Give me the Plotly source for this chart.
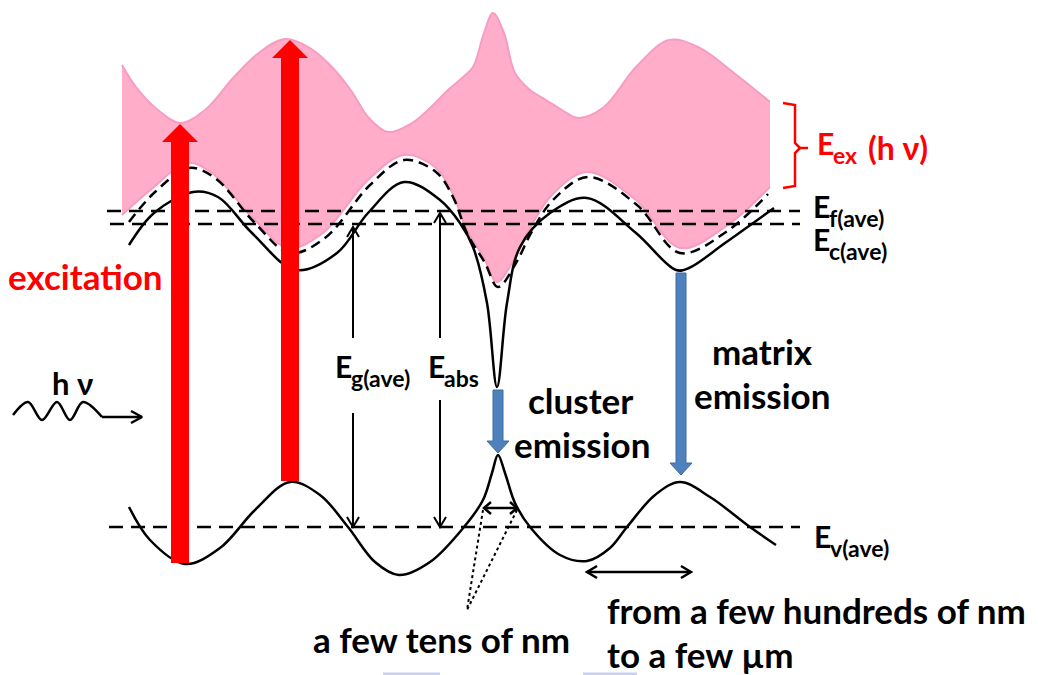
import plotly.graph_objects as go

W, H = 1038, 675
FONT = "Lato"

# ---------------- data (pixel coordinates) ----------------
# excitation band (pink) upper and lower boundaries
band_top_x = [122, 136, 158, 180, 205, 234, 260, 285, 310, 332, 352, 368, 388, 412, 430, 448, 462, 473, 484, 493, 504, 515, 530, 546, 562, 578, 604, 636, 669, 698, 734, 770]
band_top_y = [65, 87, 110, 123, 110, 77, 52, 39, 48, 67, 92, 117, 132, 123, 108, 90, 78, 67, 33, 13, 33, 73, 90, 100, 110, 118, 107, 67, 40, 47, 73, 102]
band_bot_x = [122, 154, 187, 212, 252, 288, 323, 368, 404, 435, 452, 466, 484, 497, 515, 530, 552, 587, 636, 680, 725, 770]
band_bot_y = [215, 187, 163, 173, 217, 248, 233, 180, 155, 167, 192, 228, 258, 282, 258, 228, 195, 172, 200, 248, 227, 187]

# local Fermi level (dashed curve)
fermi_x = [129, 155, 189, 215, 254, 290, 325, 370, 404, 436, 453, 467, 485, 498, 516, 531, 553, 588, 637, 680, 726, 768]
fermi_y = [222, 192, 168, 178, 222, 253, 238, 185, 160, 172, 197, 233, 263, 287, 263, 233, 200, 177, 205, 253, 232, 194]

# conduction band edge
cb_x = [129, 154, 193, 218, 252, 296, 337, 368, 404, 440, 460, 473, 487, 497, 507, 520, 550, 587, 636, 676, 689, 725, 774]
cb_y = [245, 213, 192, 197, 233, 270, 253, 213, 182, 200, 223, 247, 303, 387, 303, 247, 213, 198, 233, 270, 268, 243, 208]

# valence band edge
vb_x = [129, 150, 185, 220, 255, 290, 320, 348, 375, 399, 430, 464, 483, 492, 498, 505, 515, 530, 560, 587, 610, 627, 655, 680, 710, 750, 776]
vb_y = [507, 540, 564, 548, 510, 482, 495, 527, 562, 575, 562, 527, 500, 473, 455, 473, 503, 527, 555, 561, 548, 527, 495, 482, 497, 527, 545]

# average levels (y) and their x extent
levels = {"Ef": 211, "Ec": 224, "Ev": 527}
level_x0 = [107, 110, 109]
level_x1 = [800, 800, 800]

# excitation arrows (red)
red_x = [180, 290]
red_base = [563, 481]
red_tip = [124, 40]

# emission arrows (blue)
blue_x = [498, 681]
blue_top = [390, 273]
blue_tip = [453, 475]

# energy arrows (E_g, E_abs)
gap_x = [353, 440]
gap_top = [227, 213]
gap_bot = [527, 527]
gap_hole_top = [338, 338]
gap_hole_bot = [413, 400]

# photon wave
wave_x = [13, 28, 42, 57, 70, 83, 102]
wave_y = [415, 402, 420, 402, 420, 402, 417]

# ---------------- figure ----------------
fig = go.Figure()

def line(x, y, color="black", width=2.5, dash=None, shape="linear", smoothing=1.0):
    fig.add_trace(go.Scatter(x=x, y=y, mode="lines", hoverinfo="skip", showlegend=False,
                             line=dict(color=color, width=width, dash=dash, shape=shape,
                                       smoothing=smoothing)))

def poly(x, y, fill, edge=None, ew=0):
    fig.add_trace(go.Scatter(x=x + [x[0]], y=y + [y[0]], mode="lines", fill="toself",
                             fillcolor=fill, hoverinfo="skip", showlegend=False,
                             line=dict(color=edge or fill, width=ew)))

def open_head(xt, yt, dx, dy, L=9, hw=5):
    px, py = -dy, dx
    bx, by = xt - dx * L, yt - dy * L
    return [bx + px * hw, xt, bx - px * hw], [by + py * hw, yt, by - py * hw]

# pink band
PINK_FILL = "#FFADC8"
PINK_EDGE = "#F79CC4"
fig.add_trace(go.Scatter(x=band_top_x, y=band_top_y, mode="lines", hoverinfo="skip", showlegend=False,
                         line=dict(color=PINK_EDGE, width=2, shape="spline", smoothing=1.0)))
fig.add_trace(go.Scatter(x=band_bot_x, y=band_bot_y, mode="lines", hoverinfo="skip", showlegend=False,
                         fill="tonexty", fillcolor=PINK_FILL,
                         line=dict(color=PINK_EDGE, width=2, shape="spline", smoothing=1.0)))

# average level dashed lines
for (name, yv), x0, x1 in zip(levels.items(), level_x0, level_x1):
    line([x0, x1], [yv, yv], width=2.5, dash="14px,8px")

# fermi dashed curve, band edges
line(fermi_x, fermi_y, width=2.5, dash="10px,6px", shape="spline")
line(cb_x, cb_y, width=2.5, shape="spline")
line(vb_x, vb_y, width=2.5, shape="spline")

# Eg / Eabs double arrows
for x, t, b, h0, h1 in zip(gap_x, gap_top, gap_bot, gap_hole_top, gap_hole_bot):
    line([x, x], [t, h0], width=2)
    line([x, x], [h1, b], width=2)
    hx, hy = open_head(x, t, 0, -1, L=10, hw=6)
    line(hx, hy, width=2)
    hx, hy = open_head(x, b, 0, 1, L=10, hw=6)
    line(hx, hy, width=2)

# small horizontal double arrows
for x0, x1, yv, L in [(484, 517, 508, 7), (587, 691, 572, 10)]:
    line([x0, x1], [yv, yv], width=2.5)
    hx, hy = open_head(x1, yv, 1, 0, L=L, hw=6)
    line(hx, hy, width=2.5)
    hx, hy = open_head(x0, yv, -1, 0, L=L, hw=6)
    line(hx, hy, width=2.5)

# dotted pointer lines
line([483, 467, 517], [510, 610, 510], width=2, dash="dot")

# photon wave + arrow
line(wave_x, wave_y, width=2.5, shape="spline")
line([102, 142], [417, 417], width=2.5)
hx, hy = open_head(142, 417, 1, 0, L=11, hw=6)
line(hx, hy, width=2.5)

# red excitation arrows
for x, b, t in zip(red_x, red_base, red_tip):
    sw, hw, hl = 9, 18, 18
    poly([x - sw, x + sw, x + sw, x + hw, x, x - hw, x - sw],
         [b, b, t + hl, t + hl, t, t + hl, t + hl], "#FF0000")

# blue emission arrows
for x, t, tip in zip(blue_x, blue_top, blue_tip):
    sw, hw, hl = 5, 11, 12
    poly([x - sw, x + sw, x + sw, x + hw, x, x - hw, x - sw],
         [t, t, tip - hl, tip - hl, tip, tip - hl, tip - hl], "#4F81BD", "#3E6CA5", 1)

# red bracket for E_ex
line([783, 795, 795, 800, 808], [103, 105, 143, 148, 148], color="#FF0000", width=2.5)
line([800, 795, 795, 783], [148, 153, 186, 188], color="#FF0000", width=2.5)

# faint remnants at the bottom edge
line([383, 440], [674, 674], color="#C9D1EE", width=3)
line([583, 637], [674, 674], color="#C9D1EE", width=3)

# ---------------- text ----------------
def txt(x, y, s, size, color="black", anchor="center", bold=True):
    fig.add_annotation(x=x, y=y, xref="x", yref="y", text=f"<b>{s}</b>" if bold else s,
                       showarrow=False, xanchor=anchor, yanchor="middle",
                       font=dict(family=FONT, size=size, color=color))

txt(85, 276, "excitation", 35, "#FF0000")
txt(72, 383, "h ν", 31)
txt(580, 400, "cluster", 35)
txt(582, 444, "emission", 35)
txt(762, 351, "matrix", 35)
txt(762, 395, "emission", 35)
txt(311, 639, "a few tens of nm", 35, anchor="left")
txt(605, 610, "from a few hundreds of nm", 35, anchor="left")
txt(605, 654, "to a few µm", 35, anchor="left")

# E labels (main letter + subscript)
def elab(x, y, sub, color="black", size=30, subsize=23):
    txt(x, y, "E", size, color, anchor="left")
    txt(x + 16, y + 12, sub, subsize, color, anchor="left")

elab(811, 206, "f(ave)")
elab(811, 239, "c(ave)")
elab(812, 536, "v(ave)")
elab(333, 366, "g(ave)")
elab(426, 366, "abs")
elab(815, 143, "ex", "#FF0000")
txt(866, 147, "(h ν)", 32, "#FF0000", anchor="left")

fig.update_layout(
    width=W, height=H, margin=dict(l=0, r=0, t=0, b=0),
    paper_bgcolor="white", plot_bgcolor="white",
    xaxis=dict(range=[0, W], visible=False, fixedrange=True),
    yaxis=dict(range=[H, 0], visible=False, fixedrange=True),
    showlegend=False,
)
fig.write_html("out.html")
